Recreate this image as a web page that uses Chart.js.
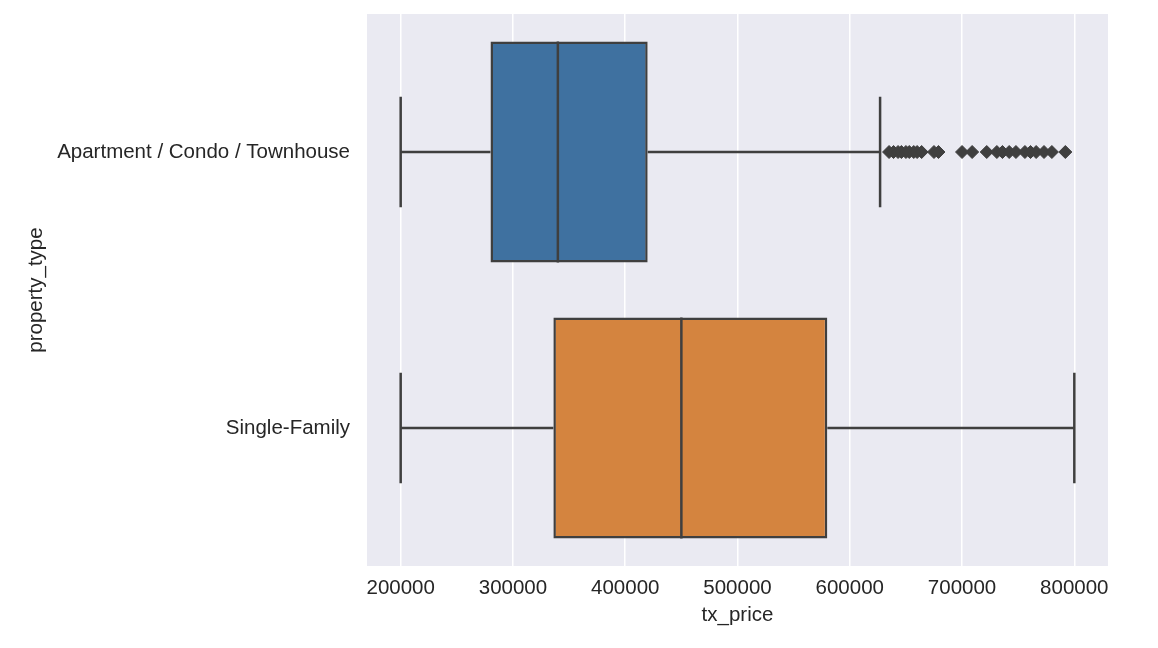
<!DOCTYPE html>
<html>
<head>
<meta charset="utf-8">
<script src="https://cdn.jsdelivr.net/npm/chart.js@4"></script>
<style>
  body { margin: 0; background: #fff; }
</style>
</head>
<body>
<canvas id="myChart" width="1158" height="648"></canvas>
<script>
var categories = ['Apartment / Condo / Townhouse', 'Single-Family'];
var whiskerLow = [200000, 200000];
var q1 = [280000, 336000];
var median = [340000, 450000];
var q3 = [420000, 580000];
var whiskerHigh = [627000, 800000];
// fliers of the apartment group
var aptOutliers = [635000, 639000, 643000, 646000, 650000, 653000, 657000, 660000, 664000,
    675000, 679000, 700000, 709000, 722000, 731000, 736000, 742000, 748000, 756000,
    761000, 766000, 773000, 780000, 792000];
var xTicks = [200000, 300000, 400000, 500000, 600000, 700000, 800000];

var boxColors = ['#3f71a0', '#d4843f'];
var lineColor = '#3f3f3f';
var textColor = '#262626';
var font = { family: "'Liberation Sans', Arial, sans-serif", size: 20.5 };

var boxParts = {
    id: 'boxParts',
    beforeDraw: function(chart) {
        var a = chart.chartArea, ctx = chart.ctx;
        ctx.save();
        ctx.fillStyle = '#eaeaf2';
        ctx.fillRect(a.left, a.top, a.right - a.left, a.bottom - a.top);
        ctx.restore();
    },
    afterDatasetsDraw: function(chart) {
        var ctx = chart.ctx;
        var xs = chart.scales.x, ys = chart.scales.y;
        var bars = chart.getDatasetMeta(0).data;
        ctx.save();
        ctx.strokeStyle = lineColor;
        ctx.lineWidth = 2.5;
        categories.forEach(function(c, i) {
            var cy = ys.getPixelForValue(i);
            var half = bars[i].height / 2;
            var cap = half / 2;
            ctx.beginPath();
            // whiskers
            ctx.moveTo(xs.getPixelForValue(whiskerLow[i]), cy);
            ctx.lineTo(xs.getPixelForValue(q1[i]), cy);
            ctx.moveTo(xs.getPixelForValue(q3[i]), cy);
            ctx.lineTo(xs.getPixelForValue(whiskerHigh[i]), cy);
            // caps
            ctx.moveTo(xs.getPixelForValue(whiskerLow[i]), cy - cap);
            ctx.lineTo(xs.getPixelForValue(whiskerLow[i]), cy + cap);
            ctx.moveTo(xs.getPixelForValue(whiskerHigh[i]), cy - cap);
            ctx.lineTo(xs.getPixelForValue(whiskerHigh[i]), cy + cap);
            // median
            ctx.moveTo(xs.getPixelForValue(median[i]), cy - half);
            ctx.lineTo(xs.getPixelForValue(median[i]), cy + half);
            ctx.stroke();
        });
        ctx.restore();
    }
};

var ctx = document.getElementById('myChart').getContext('2d');
var myChart = new Chart(ctx, {
    type: 'bar',
    data: {
        labels: categories,
        datasets: [{
            data: categories.map(function(c, i) { return [q1[i], q3[i]]; }),
            backgroundColor: boxColors,
            borderColor: lineColor,
            borderWidth: 2.5,
            borderSkipped: false,
            grouped: false,
            categoryPercentage: 0.8,
            barPercentage: 1.0
        }, {
            type: 'scatter',
            data: aptOutliers.map(function(v) { return { x: v, y: categories[0] }; }),
            pointStyle: 'rectRot',
            pointRadius: 6.5,
            backgroundColor: lineColor,
            borderColor: lineColor,
            borderWidth: 1
        }]
    },
    options: {
        indexAxis: 'y',
        responsive: false,
        animation: false,
        layout: { padding: { top: 14, right: 50, left: 0, bottom: 0 } },
        plugins: { legend: { display: false }, tooltip: { enabled: false } },
        scales: {
            x: {
                type: 'linear',
                min: 170000,
                max: 830000,
                afterBuildTicks: function(s) { s.ticks = xTicks.map(function(v) { return { value: v }; }); },
                afterFit: function(s) { s.height = 82; },
                grid: { color: '#ffffff', lineWidth: 1.5, drawTicks: false },
                border: { display: false },
                ticks: { color: textColor, font: font, padding: 10, maxRotation: 0,
                    callback: function(v) { return String(v); } },
                title: { display: true, text: 'tx_price', color: textColor, font: font, padding: { bottom: 20 } }
            },
            y: {
                type: 'category',
                offset: true,
                afterFit: function(s) { s.width = 367; s.paddingTop = 0; s.paddingBottom = 0; },
                grid: { display: false },
                border: { display: false },
                ticks: { color: textColor, font: font, padding: 9 },
                title: { display: true, text: 'property_type', color: textColor, font: font, padding: { top: 23.7 } }
            }
        }
    },
    plugins: [boxParts]
});
</script>
</body>
</html>
